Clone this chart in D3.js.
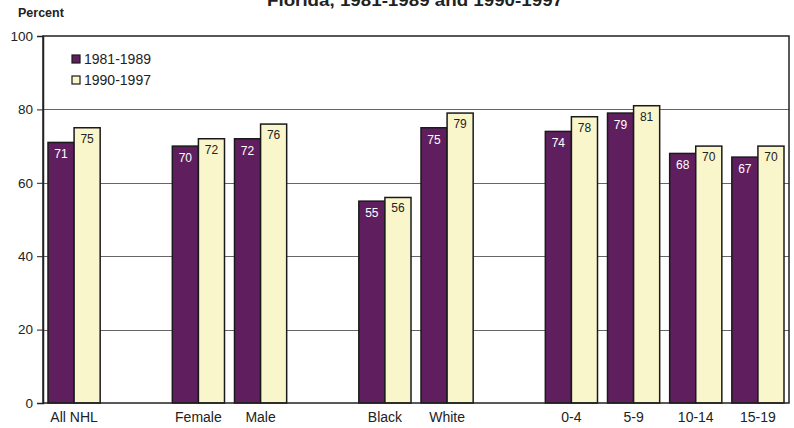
<!DOCTYPE html>
<html>
<head>
<meta charset="utf-8">
<script src="https://cdn.jsdelivr.net/npm/d3@7"></script>
<style>
  body { margin: 0; background: #fff; }
  svg text { font-family: "Liberation Sans", Arial, sans-serif; }
</style>
</head>
<body>
<div id="chart"></div>
<script>
// groups of categories, separated by an empty slot on the chart
var groups = [["All NHL"], ["Female", "Male"], ["Black", "White"], ["0-4", "5-9", "10-14", "15-19"]];
var series = ["1981-1989", "1990-1997"];
var values_8189 = [71, 70, 72, 55, 75, 74, 79, 68, 67];
var values_9097 = [75, 72, 76, 56, 79, 78, 81, 70, 70];
var y_ticks = [0, 20, 40, 60, 80, 100];

var colors = ["#5f1f5f", "#faf6cb"];

var W = 794, H = 428;
var margin = {top: 36, right: 5, bottom: 25, left: 43};
var width = W - margin.left - margin.right;
var height = H - margin.top - margin.bottom;

// build slot list with spacer slots between groups
var slots = [];
var categories = [];
groups.forEach(function(g, gi) {
  if (gi > 0) slots.push("__gap" + gi);
  g.forEach(function(c) { slots.push(c); categories.push(c); });
});
var data = categories.map(function(c, i) {
  return {cat: c, vals: [values_8189[i], values_9097[i]]};
});

var svg = d3.select("#chart").append("svg")
    .attr("width", W)
    .attr("height", H);

// title (cut at the top like the original)
svg.append("text")
    .attr("x", 415)
    .attr("y", 6)
    .attr("text-anchor", "middle")
    .attr("font-size", 16)
    .attr("font-weight", "bold")
    .attr("fill", "#222")
    .attr("textLength", 296)
    .attr("lengthAdjust", "spacingAndGlyphs")
    .text("Florida, 1981-1989 and 1990-1997");

svg.append("text")
    .attr("x", 18)
    .attr("y", 17)
    .attr("font-size", 12.5)
    .attr("font-weight", "bold")
    .attr("fill", "#222")
    .text("Percent");

var g = svg.append("g")
    .attr("transform", "translate(" + margin.left + "," + margin.top + ")");

var x0 = d3.scaleBand()
    .domain(slots)
    .range([0, width])
    .paddingInner(0)
    .paddingOuter(0);

var x1 = d3.scaleBand()
    .domain([0, 1])
    .range([5, x0.bandwidth() - 5]);

var y = d3.scaleLinear()
    .domain([0, 100])
    .range([height, 0]);

// gridlines
g.append("g").selectAll("line")
    .data([20, 40, 60, 80])
    .enter()
    .append("line")
    .attr("x1", 0)
    .attr("x2", width)
    .attr("y1", function(d) { return Math.round(y(d)) + 0.5; })
    .attr("y2", function(d) { return Math.round(y(d)) + 0.5; })
    .attr("stroke", "#666")
    .attr("stroke-width", 1);

// bars
var grp = g.append("g").selectAll("g")
    .data(data)
    .enter()
    .append("g")
    .attr("transform", function(d) { return "translate(" + x0(d.cat) + ",0)"; });

grp.selectAll("rect")
    .data(function(d) { return d.vals; })
    .enter()
    .append("rect")
    .attr("x", function(d, i) { return x1(i); })
    .attr("y", function(d) { return y(d); })
    .attr("width", x1.bandwidth())
    .attr("height", function(d) { return height - y(d); })
    .attr("fill", function(d, i) { return colors[i]; })
    .attr("stroke", "#1a1a1a")
    .attr("stroke-width", 1.5);

grp.selectAll("text")
    .data(function(d) { return d.vals; })
    .enter()
    .append("text")
    .attr("x", function(d, i) { return x1(i) + x1.bandwidth() / 2; })
    .attr("y", function(d, i) { return y(d) + (i === 0 ? 16 : 15); })
    .attr("text-anchor", "middle")
    .attr("font-size", 12)
    .attr("fill", function(d, i) { return i === 0 ? "#fff" : "#222"; })
    .text(function(d) { return d; });

// frame
g.append("rect")
    .attr("x", 0)
    .attr("y", 0)
    .attr("width", width)
    .attr("height", height)
    .attr("fill", "none")
    .attr("stroke", "#222")
    .attr("stroke-width", 1.5);

// y axis
var yAxis = g.append("g")
    .call(d3.axisLeft(y).tickValues(y_ticks).tickSize(6).tickPadding(4));
yAxis.select(".domain").attr("stroke", "#222").attr("stroke-width", 1.5);
yAxis.selectAll(".tick line").attr("stroke", "#222");
yAxis.selectAll("text")
    .attr("font-size", 13.5)
    .attr("font-family", "Liberation Sans, Arial, sans-serif")
    .attr("fill", "#222");

// x labels
g.append("g").selectAll("text")
    .data(categories)
    .enter()
    .append("text")
    .attr("x", function(d) { return x0(d) + x0.bandwidth() / 2; })
    .attr("y", height + 19)
    .attr("text-anchor", "middle")
    .attr("font-size", 14)
    .attr("fill", "#222")
    .text(function(d) { return d; });

// legend
var leg = svg.append("g").selectAll("g")
    .data(series)
    .enter()
    .append("g")
    .attr("transform", function(d, i) { return "translate(72," + (55 + i * 21) + ")"; });

leg.append("rect")
    .attr("width", 8)
    .attr("height", 8)
    .attr("fill", function(d, i) { return colors[i]; })
    .attr("stroke", "#1a1a1a")
    .attr("stroke-width", 1.2);

leg.append("text")
    .attr("x", 12)
    .attr("y", 9)
    .attr("font-size", 14)
    .attr("fill", "#222")
    .text(function(d) { return d; });
</script>
</body>
</html>
